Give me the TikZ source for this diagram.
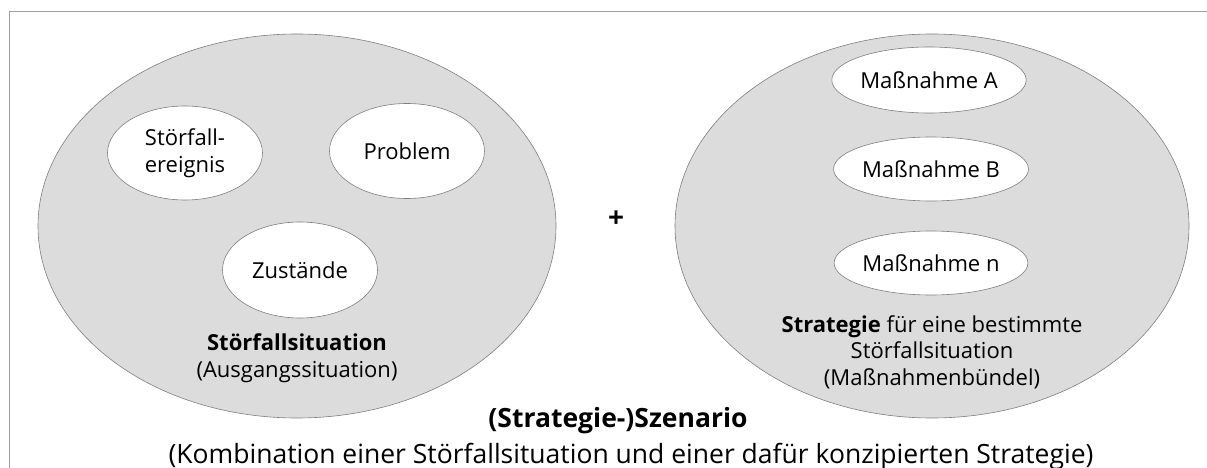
\documentclass[tikz,border=0pt]{standalone}
\usepackage{fontspec}
\setmainfont{Open Sans}
\usetikzlibrary{shapes.geometric}
\definecolor{fillgray}{HTML}{DCDCDC}
\definecolor{edgegray}{HTML}{7F7F7F}
\definecolor{framegray}{HTML}{A0A0A0}
\tikzset{
  bigset/.style={ellipse, draw=edgegray, line width=0.6pt, fill=fillgray, inner sep=0pt},
  element/.style={ellipse, draw=edgegray, line width=0.6pt, fill=white, inner sep=0pt,
    font=\fontsize{22}{27}\selectfont, align=center},
  caption/.style={font=\fontsize{22}{26.5}\selectfont, align=center, inner sep=0pt},
  bigcaption/.style={font=\fontsize{26.5}{30}\selectfont, inner sep=0pt, anchor=base},
}
\begin{document}
\begin{tikzpicture}[x=1pt, y=-1pt]
  \useasboundingbox (0,0) rectangle (1207,468);
  % open frame: top and left edges only
  \draw[framegray, line width=1pt] (9,468) -- (9,12) -- (1207,12);

  % situation set
  \node[bigset, minimum width=518, minimum height=384] (situation) at (297,226) {};
  \node[element, minimum width=155, minimum height=94] (ereignis) at (185,153) {Störfall-\\ereignis};
  \node[element, minimum width=155, minimum height=95] (problem) at (407,151) {Problem};
  \node[element, minimum width=155, minimum height=96] (zustaende) at (300,270) {Zustände};
  \node[caption] (sitlabel) at (297,358) {\textbf{Störfallsituation}\\(Ausgangssituation)};

  \node[font=\fontsize{28}{30}\selectfont\bfseries, inner sep=0pt] (plus) at (616,219) {+};

  % strategy set
  \node[bigset, minimum width=514, minimum height=384] (strategie) at (932,226) {};
  \node[element, minimum width=182, minimum height=66] (massA) at (929,80) {Maßnahme A};
  \node[element, minimum width=177, minimum height=64] (massB) at (931,169) {Maßnahme B};
  \node[element, minimum width=177, minimum height=64] (massN) at (931,263) {Maßnahme n};
  \node[caption] (stratlabel) at (932,352) {\textbf{Strategie} für eine bestimmte\\Störfallsituation\\(Maßnahmenbündel)};

  % overall caption
  \node[bigcaption, font=\fontsize{26.5}{30}\selectfont\bfseries] (szenario) at (618,427) {(Strategie-)Szenario};
  \node[bigcaption] (kombination) at (631,463) {(Kombination einer Störfallsituation und einer dafür konzipierten Strategie)};
\end{tikzpicture}
\end{document}
